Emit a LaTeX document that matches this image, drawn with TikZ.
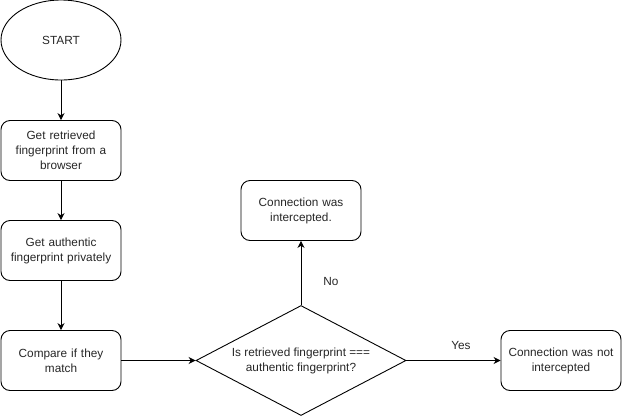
\documentclass[tikz,border=0pt]{standalone}
\usepackage{fontspec}
\setmainfont{Liberation Sans}
\usetikzlibrary{shapes.geometric,arrows.meta}
\begin{document}
\begin{tikzpicture}[x=1pt,y=-1pt,
  every node/.style={font=\fontsize{11.8}{15}\selectfont, text=black!85, align=center},
  box/.style={draw, line width=0.9pt, rounded corners=9pt, minimum width=120pt, minimum height=60pt, text width=114pt, inner sep=0pt},
  dec/.style={draw, line width=0.9pt, diamond, aspect=1.909, minimum width=210pt, minimum height=110pt, inner sep=0pt},
  oval/.style={draw, line width=0.9pt, ellipse, minimum width=120pt, minimum height=80pt, inner sep=0pt},
  arr/.style={draw, line width=0.9pt, -{Stealth[length=7pt,width=7pt]}},
  lbl/.style={font=\fontsize{11.8}{15}\selectfont}
]
\useasboundingbox (0,0) rectangle (622,416);
\node[oval] (start) at (61,40) {START};
\node[box] (b1) at (61,150.5) {Get retrieved\\fingerprint from a\\browser};
\node[box] (b2) at (61,250.5) {Get authentic\\fingerprint privately};
\node[box] (b3) at (61,360.5) {Compare if they\\match};
\node[dec] (d) at (301,360.5) {Is retrieved fingerprint ===\\authentic fingerprint?};
\node[box] (no) at (301,210.5) {Connection was\\intercepted.};
\node[box] (yes) at (561,360.5) {Connection was not\\intercepted};
\draw[arr] (start) -- (b1);
\draw[arr] (b1) -- (b2);
\draw[arr] (b2) -- (b3);
\draw[arr] (b3) -- (d.west);
\draw[arr] (d.north) -- (no);
\draw[arr] (d.east) -- (yes);
\node[lbl] (nolbl) at (331,281) {No};
\node[lbl] (yeslbl) at (461,345) {Yes};
\end{tikzpicture}
\end{document}
